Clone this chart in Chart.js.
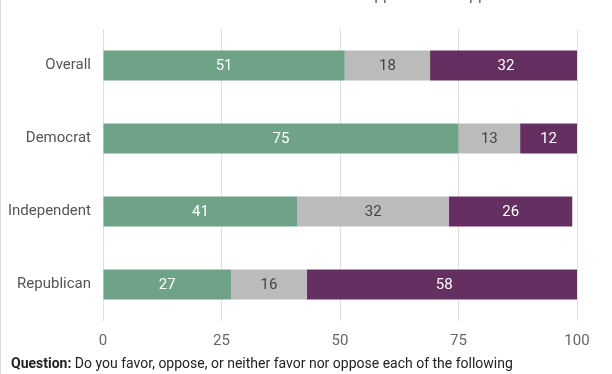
<!DOCTYPE html>
<html>
<head>
<meta charset="utf-8">
<script src="https://cdn.jsdelivr.net/npm/chart.js@4/dist/chart.umd.min.js"></script>
<style>
  html, body { margin: 0; padding: 0; background: #fff; }
  #wrap { width: 611px; height: 374px; border-left: 1px solid #ddd; }
</style>
</head>
<body>
<div id="wrap"><canvas id="myChart" width="611" height="374"></canvas></div>
<script>
const categories = ['Overall', 'Democrat', 'Independent', 'Republican'];
const series_names = ['Favor', 'Neither favor nor oppose', 'Oppose'];
const favor = [51, 75, 41, 27];
const neither = [18, 13, 32, 16];
const oppose = [32, 12, 26, 58];
const x_ticks = [0, 25, 50, 75, 100];

const green = '#6fa388';
const grey = '#bbbbbb';
const purple = '#652f61';

// labels in the middle of each bar piece
const barLabels = {
    id: 'barLabels',
    afterDatasetsDraw(chart) {
        const ctx = chart.ctx;
        ctx.save();
        ctx.font = '15px Roboto';
        ctx.textAlign = 'center';
        ctx.textBaseline = 'middle';
        chart.data.datasets.forEach(function (ds, i) {
            chart.getDatasetMeta(i).data.forEach(function (bar, j) {
                ctx.fillStyle = i == 1 ? '#444' : '#fff';
                ctx.fillText(ds.data[j], (bar.x + bar.base) / 2, bar.y + 1);
            });
        });
        ctx.restore();
    }
};

// question line + legend that runs off the top edge
const extras = {
    id: 'extras',
    afterDraw(chart) {
        const ctx = chart.ctx;
        ctx.save();
        ctx.textBaseline = 'alphabetic';
        ctx.fillStyle = '#222';
        ctx.font = 'bold 14px Roboto';
        ctx.fillText('Question:', 10, 368);
        let w = ctx.measureText('Question: ').width;
        ctx.font = '14px Roboto';
        ctx.fillText('Do you favor, oppose, or neither favor nor oppose each of the following', 10 + w, 368);
        ctx.fillStyle = '#666';
        ctx.font = '16px Roboto';
        let pre = ctx.measureText('Neither favor nor ').width;
        ctx.fillText(series_names[1], 364 - pre, 0);
        ctx.fillText(series_names[2], 457, 0);
        ctx.restore();
    }
};

new Chart('myChart', {
    type: 'bar',
    data: {
        labels: categories,
        datasets: [
            { label: series_names[0], data: favor, backgroundColor: green },
            { label: series_names[1], data: neither, backgroundColor: grey },
            { label: series_names[2], data: oppose, backgroundColor: purple }
        ]
    },
    options: {
        indexAxis: 'y',
        responsive: false,
        animation: false,
        layout: { padding: { top: 29, right: 35, bottom: 13, left: 0 } },
        datasets: { bar: { barPercentage: 0.41, categoryPercentage: 1 } },
        scales: {
            x: {
                stacked: true,
                min: 0,
                max: 100,
                afterBuildTicks: function (axis) { axis.ticks = x_ticks.map(function (v) { return { value: v } }) },
                grid: { color: '#e0e0e0', drawTicks: false },
                border: { display: false },
                ticks: { color: '#666', font: { family: 'Roboto', size: 15 }, padding: 11 }
            },
            y: {
                stacked: true,
                grid: { display: false },
                border: { display: false },
                afterFit: function (axis) { axis.width = 102; },
                ticks: { color: '#555', font: { family: 'Roboto', size: 15 }, padding: 4 }
            }
        },
        plugins: {
            legend: { display: false },
            tooltip: { enabled: false }
        }
    },
    plugins: [barLabels, extras]
});
</script>
</body>
</html>
